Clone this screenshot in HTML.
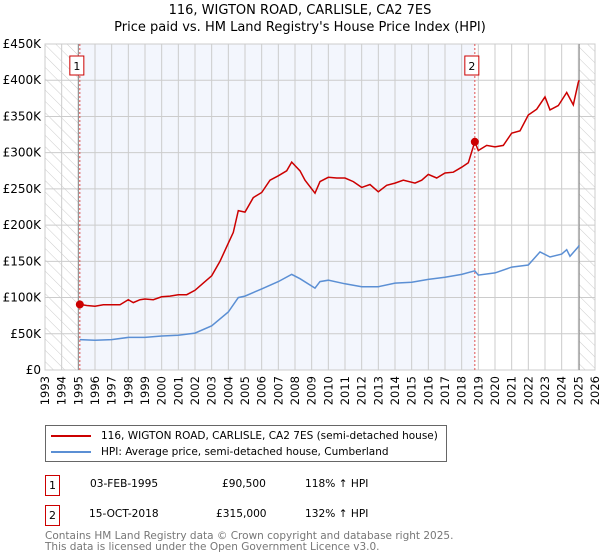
<!DOCTYPE html>
<html><head><meta charset="utf-8">
<style>
body{margin:0;background:#fff;font-family:"DejaVu Sans","Liberation Sans",sans-serif;}
#wrap{position:relative;width:600px;height:560px;overflow:hidden;}
.t{position:absolute;font-size:10.6px;color:#000;white-space:nowrap;}
</style></head>
<body>
<div id="wrap">
<svg id="chart" width="600" height="420" style="position:absolute;left:0;top:0"></svg>
<div style="position:absolute;left:45px;top:425px;width:400px;height:35px;border:1px solid #666;">
  <div style="position:absolute;left:5px;top:4px;font-size:10.5px;white-space:nowrap"><span style="display:inline-block;width:40px;height:2px;background:#cc0000;vertical-align:middle;margin-right:10px"></span>116, WIGTON ROAD, CARLISLE, CA2 7ES (semi-detached house)</div>
  <div style="position:absolute;left:5px;top:20px;font-size:10.5px;white-space:nowrap"><span style="display:inline-block;width:40px;height:2px;background:#5b8fd4;vertical-align:middle;margin-right:10px"></span>HPI: Average price, semi-detached house, Cumberland</div>
</div>
<div style="position:absolute;left:45px;top:475px;width:13px;height:19px;border:1px solid #cc0000;font-size:11px;text-align:center;line-height:19px">1</div>
<div class="t" style="left:90px;top:478px">03-FEB-1995</div>
<div class="t" style="left:222px;top:478px">£90,500</div>
<div class="t" style="left:305px;top:478px">118% ↑ HPI</div>
<div style="position:absolute;left:45px;top:505px;width:13px;height:19px;border:1px solid #cc0000;font-size:11px;text-align:center;line-height:19px">2</div>
<div class="t" style="left:89px;top:508px">15-OCT-2018</div>
<div class="t" style="left:216px;top:508px">£315,000</div>
<div class="t" style="left:305px;top:508px">132% ↑ HPI</div>
<div class="t" style="left:45px;top:531px;font-size:10.5px;color:#777;line-height:11px">Contains HM Land Registry data © Crown copyright and database right 2025.<br>This data is licensed under the Open Government Licence v3.0.</div>
</div>
<script>
const yearTicks=[1993,1994,1995,1996,1997,1998,1999,2000,2001,2002,2003,2004,2005,2006,2007,2008,2009,2010,2011,2012,2013,2014,2015,2016,2017,2018,2019,2020,2021,2022,2023,2024,2025,2026];
const yTicks=[0,50000,100000,150000,200000,250000,300000,350000,400000,450000];
const yTickLabels=["£0","£50K","£100K","£150K","£200K","£250K","£300K","£350K","£400K","£450K"];
const redDates=[1995.09,1995.5,1996,1996.5,1997,1997.5,1998,1998.3,1998.7,1999,1999.5,2000,2000.5,2001,2001.5,2002,2002.5,2003,2003.5,2004,2004.3,2004.6,2005,2005.5,2006,2006.5,2007,2007.5,2007.8,2008.3,2008.6,2009.2,2009.5,2010,2010.5,2011,2011.5,2012,2012.5,2013,2013.5,2014,2014.5,2015.2,2015.6,2016,2016.5,2017,2017.5,2018,2018.4,2018.79,2019,2019.5,2020,2020.5,2021,2021.5,2022,2022.5,2023,2023.3,2023.8,2024.3,2024.7,2025,2025.05];
const redValues=[90500,89000,88000,90000,90000,90000,97000,93000,97000,98000,97000,101000,102000,104000,104000,110000,120000,130000,150000,175000,190000,220000,218000,238000,245000,262000,268000,275000,287000,275000,262000,244000,260000,266000,265000,265000,260000,252000,256000,246000,255000,258000,262000,258000,262000,270000,265000,272000,273000,280000,286000,315000,303000,310000,308000,310000,327000,330000,352000,360000,377000,359000,365000,383000,366000,397000,400000];
const blueDates=[1995.09,1996,1997,1998,1999,2000,2001,2002,2003,2004,2004.6,2005,2006,2007,2007.8,2008.3,2009.2,2009.5,2010,2011,2012,2013,2014,2015,2016,2017,2018,2018.79,2019,2020,2021,2022,2022.7,2023.3,2024,2024.3,2024.5,2025,2025.05];
const blueValues=[42000,41000,42000,45000,45000,47000,48000,51000,61000,80000,100000,102000,112000,122000,132000,126000,113000,122000,124000,119000,115000,115000,120000,121000,125000,128000,132000,137000,131000,134000,142000,145000,163000,156000,160000,166000,157000,170000,172000];
const saleDates=[1995.09,2018.79];
const saleValues=[90500,315000];
const saleLabels=["1","2"];

const svg=document.getElementById('chart');
const NS='http://www.w3.org/2000/svg';
const X0=45,X1=595,Y0=370,Y1=44;
const x=d=>X0+(d-1993)/(2026-1993)*(X1-X0);
const y=v=>Y0-v/450000*(Y0-Y1);
function mk(tag,attrs,name){const e=document.createElementNS(NS,tag);for(const k in attrs)e.setAttribute(k,attrs[k]);


svg.appendChild(e);return e;}
const defs=document.createElementNS(NS,'defs');
defs.innerHTML='<pattern id="hatch" width="8" height="8" patternUnits="userSpaceOnUse" patternTransform="rotate(-45)"><line x1="0" y1="0" x2="0" y2="8" stroke="#ccc" stroke-width="1"/></pattern>';
svg.appendChild(defs);
mk('rect',{x:x(1993),y:Y1,width:x(saleDates[0])-x(1993),height:Y0-Y1,fill:'url(#hatch)'},'hatch-before-data');
mk('rect',{x:x(2025.05),y:Y1,width:X1-x(2025.05),height:Y0-Y1,fill:'url(#hatch)'},'hatch-after-data');
mk('rect',{x:x(saleDates[0]),y:Y1,width:x(saleDates[1])-x(saleDates[0]),height:Y0-Y1,fill:'#f3f6fd'},'ownership-shade');
yearTicks.forEach(t=>{mk('line',{x1:x(t),x2:x(t),y1:Y1,y2:Y0,stroke:'#ccc','stroke-width':1},'x-grid-line');
 const tx=mk('text',{x:0,y:0,transform:`translate(${x(t)+4},376) rotate(-90)`,'text-anchor':'end','font-size':'11.5',fill:'#000'},'x-tick-label');tx.textContent=t;});
yTicks.forEach((t,i)=>{mk('line',{x1:X0,x2:X1,y1:y(t),y2:y(t),stroke:'#ccc','stroke-width':1},'y-grid-line');
 const tx=mk('text',{x:41,y:y(t)+4,'text-anchor':'end','font-size':'12',fill:'#000'},'y-tick-label');tx.textContent=yTickLabels[i];});
mk('rect',{x:X0,y:Y1,width:X1-X0,height:Y0-Y1,fill:'none',stroke:'#ccc'},'plot-frame');
mk('line',{x1:x(saleDates[0])-1.5,x2:x(saleDates[0])-1.5,y1:Y1,y2:Y0,stroke:'#888','stroke-width':1},'data-start-line');
mk('line',{x1:x(2025.05),x2:x(2025.05),y1:Y1,y2:Y0,stroke:'#888','stroke-width':1},'data-end-line');
saleDates.forEach((d,i)=>{mk('line',{x1:x(d),x2:x(d),y1:Y1,y2:Y0,stroke:'#e05050','stroke-width':1,'stroke-dasharray':'2,2'},'sale-marker-line');
 mk('rect',{x:x(d)-10,y:56,width:14,height:19,fill:'#fff',stroke:'#cc0000'},'sale-marker-box');
 const tx=mk('text',{x:x(d)-3,y:70,'text-anchor':'middle','font-size':'11',fill:'#000'},'sale-marker-label');tx.textContent=saleLabels[i];});
const pts=(ds,vs)=>ds.map((d,i)=>x(d).toFixed(1)+','+y(vs[i]).toFixed(1)).join(' ');
mk('polyline',{points:pts(blueDates,blueValues),fill:'none',stroke:'#5b8fd4','stroke-width':1.5},'hpi-line');
mk('polyline',{points:pts(redDates,redValues),fill:'none',stroke:'#cc0000','stroke-width':1.5},'property-price-line');
saleDates.forEach((d,i)=>mk('circle',{cx:x(d),cy:y(saleValues[i]),r:4,fill:'#cc0000'},'sale-point'));
const t1=mk('text',{x:300,y:14,'text-anchor':'middle','font-size':'13',fill:'#000'},'chart-title');t1.textContent='116, WIGTON ROAD, CARLISLE, CA2 7ES';
const t2=mk('text',{x:300,y:31,'text-anchor':'middle','font-size':'13',fill:'#000'},'chart-subtitle');t2.textContent="Price paid vs. HM Land Registry's House Price Index (HPI)";
</script>
</body></html>
